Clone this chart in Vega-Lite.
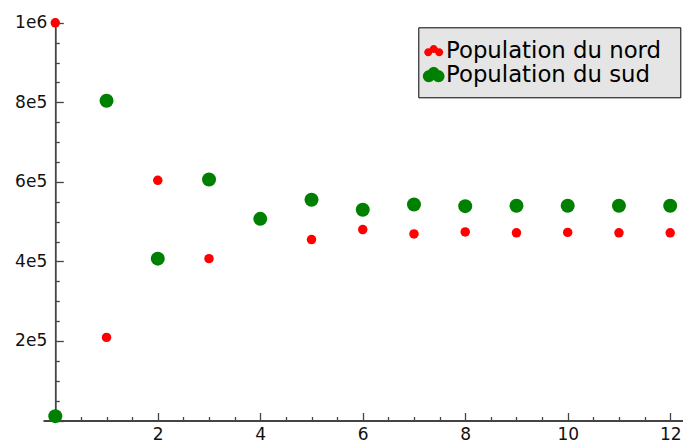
{
  "$schema": "https://vega.github.io/schema/vega-lite/v6.json",
  "width": 640,
  "height": 402.5,
  "autosize": {"type": "none"},
  "padding": {"left": 43, "top": 18, "right": 0, "bottom": 20.5},
  "background": "white",
  "config": {
    "view": {"stroke": null},
    "axis": {
      "grid": false,
      "domainColor": "#444444",
      "domainWidth": 1.8,
      "tickColor": "#444444",
      "tickWidth": 1.3,
      "labelFont": "DejaVu Sans",
      "labelFontSize": 17,
      "labelColor": "#111111",
      "labelOverlap": false,
      "labelFlush": false,
      "labelBound": false,
      "title": null
    }
  },
  "data": {
    "values": [
      {"n": 0, "population": 1000000, "serie": "Population du nord"},
      {"n": 1, "population": 209000, "serie": "Population du nord"},
      {"n": 2, "population": 604000, "serie": "Population du nord"},
      {"n": 3, "population": 407000, "serie": "Population du nord"},
      {"n": 4, "population": 505000, "serie": "Population du nord"},
      {"n": 5, "population": 455000, "serie": "Population du nord"},
      {"n": 6, "population": 480000, "serie": "Population du nord"},
      {"n": 7, "population": 469000, "serie": "Population du nord"},
      {"n": 8, "population": 474000, "serie": "Population du nord"},
      {"n": 9, "population": 472000, "serie": "Population du nord"},
      {"n": 10, "population": 473000, "serie": "Population du nord"},
      {"n": 11, "population": 472000, "serie": "Population du nord"},
      {"n": 12, "population": 472000, "serie": "Population du nord"},
      {"n": 0, "population": 11000, "serie": "Population du sud"},
      {"n": 1, "population": 804000, "serie": "Population du sud"},
      {"n": 2, "population": 407000, "serie": "Population du sud"},
      {"n": 3, "population": 606000, "serie": "Population du sud"},
      {"n": 4, "population": 507000, "serie": "Population du sud"},
      {"n": 5, "population": 555000, "serie": "Population du sud"},
      {"n": 6, "population": 530000, "serie": "Population du sud"},
      {"n": 7, "population": 543000, "serie": "Population du sud"},
      {"n": 8, "population": 539000, "serie": "Population du sud"},
      {"n": 9, "population": 540000, "serie": "Population du sud"},
      {"n": 10, "population": 540000, "serie": "Population du sud"},
      {"n": 11, "population": 540000, "serie": "Population du sud"},
      {"n": 12, "population": 540000, "serie": "Population du sud"}
    ]
  },
  "encoding": {
    "x": {
      "field": "n",
      "type": "quantitative",
      "scale": {"domain": [-0.24, 12.25], "nice": false, "zero": false},
      "axis": {
        "values": [0, 0.5, 1, 1.5, 2, 2.5, 3, 3.5, 4, 4.5, 5, 5.5, 6, 6.5, 7, 7.5, 8, 8.5, 9, 9.5, 10, 10.5, 11, 11.5, 12],
        "tickSize": {"condition": {"test": "datum.value % 2 === 0", "value": -8}, "value": -4},
        "labelExpr": "datum.value % 2 === 0 && datum.value > 0 ? '' + datum.value : ''",
        "labelPadding": 13.5
      }
    },
    "y": {
      "field": "population",
      "type": "quantitative",
      "scale": {"domain": [0, 1012000], "nice": false, "zero": false},
      "axis": {
        "offset": -12.3,
        "values": [0, 50000, 100000, 150000, 200000, 250000, 300000, 350000, 400000, 450000, 500000, 550000, 600000, 650000, 700000, 750000, 800000, 850000, 900000, 950000, 1000000],
        "tickSize": {"condition": {"test": "datum.value % 200000 === 0", "value": -8}, "value": -4},
        "labelExpr": "datum.value % 200000 === 0 && datum.value > 0 ? (datum.value === 1000000 ? '1e6' : (datum.value / 100000) + 'e5') : ''",
        "labelPadding": 16.6
      }
    },
    "color": {
      "field": "serie",
      "type": "nominal",
      "scale": {"domain": ["Population du nord", "Population du sud"], "range": ["#ff0000", "#008000"]},
      "legend": null
    }
  },
  "layer": [
    {
      "mark": {"type": "point", "filled": true, "opacity": 0, "strokeWidth": 0, "size": 484},
      "encoding": {
        "color": {
          "field": "serie",
          "type": "nominal",
          "scale": {"domain": ["Population du nord", "Population du sud"], "range": ["#ff0000", "#008000"]},
          "legend": {
            "title": "\u2800", "titleFontSize": 6, "titlePadding": 2, "titleFont": "DejaVu Sans",
            "orient": "none", "legendX": 375.3, "legendY": 9.3, "padding": 4,
            "fillColor": "#e5e5e5", "strokeColor": "#000000",
            "symbolSize": 484, "symbolStrokeWidth": 0, "symbolOffset": 0, "symbolOpacity": 1,
            "labelOffset": 0.9, "rowPadding": 0,
            "labelFont": "DejaVu Sans", "labelFontSize": 22.8, "labelColor": "#000000", "labelLimit": 600,
            "labelExpr": "datum.label + '  \u200b'"
          }
        },
        "shape": {
          "field": "serie",
          "type": "nominal",
          "scale": {
            "domain": ["Population du nord", "Population du sud"],
            "range": [
              "M-0.136,0.15 C-0.136,0.351 -0.299,0.514 -0.5,0.514 C-0.701,0.514 -0.864,0.351 -0.864,0.15 C-0.864,-0.051 -0.701,-0.214 -0.5,-0.214 C-0.299,-0.214 -0.136,-0.051 -0.136,0.15 Z M0.364,-0.15 C0.364,0.051 0.201,0.214 0,0.214 C-0.201,0.214 -0.364,0.051 -0.364,-0.15 C-0.364,-0.351 -0.201,-0.514 0,-0.514 C0.201,-0.514 0.364,-0.351 0.364,-0.15 Z M0.864,0.15 C0.864,0.351 0.701,0.514 0.5,0.514 C0.299,0.514 0.136,0.351 0.136,0.15 C0.136,-0.051 0.299,-0.214 0.5,-0.214 C0.701,-0.214 0.864,-0.051 0.864,0.15 Z",
              "M0.105,0.15 C0.105,0.451 -0.139,0.695 -0.44,0.695 C-0.741,0.695 -0.985,0.451 -0.985,0.15 C-0.985,-0.151 -0.741,-0.395 -0.44,-0.395 C-0.139,-0.395 0.105,-0.151 0.105,0.15 Z M0.545,-0.15 C0.545,0.151 0.301,0.395 0,0.395 C-0.301,0.395 -0.545,0.151 -0.545,-0.15 C-0.545,-0.451 -0.301,-0.695 0,-0.695 C0.301,-0.695 0.545,-0.451 0.545,-0.15 Z M0.985,0.15 C0.985,0.451 0.741,0.695 0.44,0.695 C0.139,0.695 -0.105,0.451 -0.105,0.15 C-0.105,-0.151 0.139,-0.395 0.44,-0.395 C0.741,-0.395 0.985,-0.151 0.985,0.15 Z M0,1.68 L0.001,1.68 Z"
            ]
          },
          "legend": {
            "title": "\u2800", "titleFontSize": 6, "titlePadding": 2, "titleFont": "DejaVu Sans",
            "orient": "none", "legendX": 375.3, "legendY": 9.3, "padding": 4,
            "fillColor": "#e5e5e5", "strokeColor": "#000000",
            "symbolSize": 484, "symbolStrokeWidth": 0, "symbolOffset": 0, "symbolOpacity": 1,
            "labelOffset": 0.9, "rowPadding": 0,
            "labelFont": "DejaVu Sans", "labelFontSize": 22.8, "labelColor": "#000000", "labelLimit": 600,
            "labelExpr": "datum.label + '  \u200b'"
          }
        }
      }
    },
    {
      "transform": [{"filter": "datum.serie === 'Population du nord'"}],
      "mark": {"type": "point", "filled": true, "opacity": 1, "strokeWidth": 0, "size": 90}
    },
    {
      "transform": [{"filter": "datum.serie === 'Population du sud'"}],
      "mark": {"type": "point", "filled": true, "opacity": 1, "strokeWidth": 0, "size": 196}
    }
  ]
}
